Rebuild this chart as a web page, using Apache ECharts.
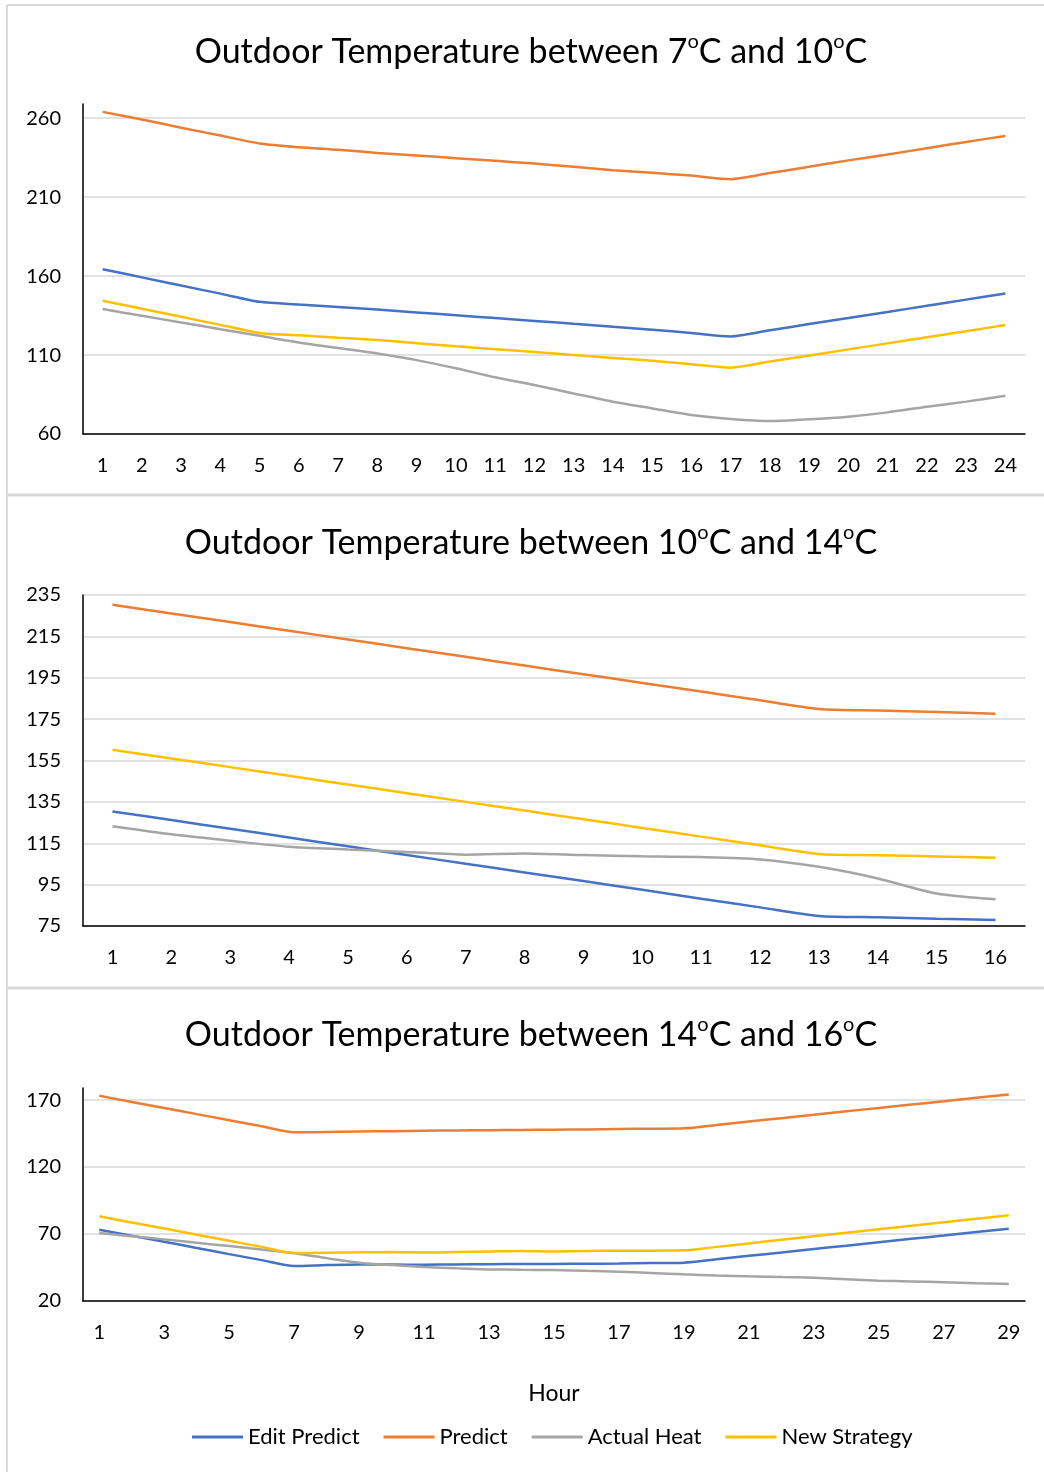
<!DOCTYPE html>
<html>
<head>
<meta charset="utf-8">
<script src="https://cdn.jsdelivr.net/npm/echarts@6/dist/echarts.min.js"></script>
<style>
html,body{margin:0;padding:0;background:#fff;}
#c{width:1044px;height:1472px;}
</style>
</head>
<body>
<div id="c"></div>
<script>
// ---------- data ----------
const seriesNames = ['Edit Predict', 'Predict', 'Actual Heat', 'New Strategy'];

const hours1 = ['1','2','3','4','5','6','7','8','9','10','11','12','13','14','15','16','17','18','19','20','21','22','23','24'];
const editPredict1 = [164.4,159.2,154,148.9,143.7,142,140.5,138.8,137,135.2,133.4,131.6,129.8,128,126,124,121.8,125.7,129.6,133.4,137.3,141.2,145.1,149];
const predict1 = [264,259.2,254,249,244,241.6,240,238,236.4,234.7,233,231.3,229.2,227,225.4,223.7,221.4,225.3,229.2,233.3,237,241,245,248.8];
const actual1 = [139.1,134.9,130.6,126.4,122.2,118,114.5,111,106.8,101.6,95.9,91,85.7,80.4,76.2,72,69.5,68.2,69.3,71,73.7,77.3,80.5,84.2];
const strategy1 = [144.4,139.3,134.2,129.1,124,122.5,121,119.5,117.5,115.5,113.7,112,110,108.2,106.4,104.2,102,105.9,109.7,113.6,117.4,121.3,125.1,129];

const hours2 = ['1','2','3','4','5','6','7','8','9','10','11','12','13','14','15','16'];
const editPredict2 = [130.4,126.2,122,117.8,113.5,109.3,105.1,100.9,96.7,92.5,88.2,84,79.8,79.2,78.5,77.9];
const predict2 = [230.3,226.1,221.9,217.7,213.5,209.3,205.1,200.9,196.7,192.5,188.3,184.1,179.9,179.2,178.5,177.6];
const actual2 = [123.2,119.3,116.2,113.3,112,110.8,109.5,110.1,109.3,108.7,108.3,107.2,103.6,98,90.7,87.9];
const strategy2 = [160.2,156,151.8,147.6,143.4,139.2,135,130.8,126.6,122.4,118.2,114,109.8,109.2,108.6,108];

const hours3 = ['1','2','3','4','5','6','7','8','9','10','11','12','13','14','15','16','17','18','19','20','21','22','23','24','25','26','27','28','29'];
const editPredict3 = [73.2,68.7,64.3,59.6,55,50.5,46.1,46.8,47.3,47.2,47.1,47.3,47.5,47.6,47.7,47.8,48,48.3,48.6,51.1,53.7,56.2,58.8,61.3,63.9,66.4,68.9,71.5,74];
const predict3 = [173.2,168.6,164.1,159.5,155,150.4,145.9,146.2,146.5,146.8,147.1,147.3,147.5,147.7,147.9,148.1,148.4,148.6,148.9,151.4,154,156.5,159,161.6,164.1,166.6,169.1,171.7,174.2];
const actual3 = [70.7,68.4,66,63.5,61,58.4,55.6,52,48.6,46.8,45.4,44.4,43.6,43.3,43.1,42.5,41.9,40.9,39.9,39.1,38.4,37.9,37.4,36.3,35.2,34.6,34,33.3,32.7];
const strategy3 = [83.2,78.6,74.1,69.5,64.9,60.4,55.8,56,56.3,56.6,56.2,56.6,57,57.4,57,57.3,57.6,57.6,57.8,60.4,63,65.7,68.3,70.9,73.5,76.1,78.8,81.4,84];

const titles = [
  ['Outdoor Temperature between 7', 'C and 10', 'C'],
  ['Outdoor Temperature between 10', 'C and 14', 'C'],
  ['Outdoor Temperature between 14', 'C and 16', 'C']
];
const yTicks1 = [60, 110, 160, 210, 260];
const yTicks2 = [75, 95, 115, 135, 155, 175, 195, 215, 235];
const yTicks3 = [20, 70, 120, 170];
const xAxisTitle = 'Hour';

// ---------- styles ----------
const colors = ['#4472C4', '#ED7D31', '#A5A5A5', '#FFC000'];
const FONT = 'Lato';
const TXT = '#000000';
const GRID = '#D9D9D9';

const grids = [
  {left: 83, right: 19, top: 104, height: 330},
  {left: 83, right: 19, top: 595, height: 331},
  {left: 83, right: 19, top: 1088, height: 213}
];

function xAxisFor(idx, data, labelInterval) {
  const ax = {
    type: 'category', gridIndex: idx, data: data, boundaryGap: true,
    axisLine: {lineStyle: {color: '#000', width: 1.5}},
    axisTick: {show: false},
    axisLabel: {interval: labelInterval, margin: 22, fontFamily: FONT, fontSize: 20, color: TXT},
    splitLine: {show: false}
  };
  if (idx === 2) {
    ax.name = xAxisTitle;
    ax.nameLocation = 'middle';
    ax.nameGap = 81;
    ax.nameTextStyle = {fontFamily: FONT, fontSize: 23, color: TXT};
  }
  return ax;
}
function yAxisFor(idx, ticks, max) {
  return {
    type: 'value', gridIndex: idx, min: ticks[0], max: max,
    interval: ticks[1] - ticks[0],
    axisLine: {show: true, lineStyle: {color: '#000', width: 1.5}},
    axisTick: {show: false, customValues: ticks},
    axisLabel: {margin: 22, fontFamily: FONT, fontSize: 20, color: TXT, customValues: ticks, showMaxLabel: true},
    splitLine: {show: true, lineStyle: {color: GRID, width: 1.5}}
  };
}

const panelData = [
  [editPredict1, predict1, actual1, strategy1],
  [editPredict2, predict2, actual2, strategy2],
  [editPredict3, predict3, actual3, strategy3]
];
const series = [];
panelData.forEach(function (arrs, p) {
  arrs.forEach(function (arr, i) {
    series.push({
      name: seriesNames[i], type: 'line', xAxisIndex: p, yAxisIndex: p,
      data: arr, showSymbol: false, symbol: 'none', smooth: 0.25,
      lineStyle: {color: colors[i], width: 2.5}, itemStyle: {color: colors[i]},
      z: 3
    });
  });
});

const titleY = [49, 540, 1032];
const graphics = [];
// frame
graphics.push({type: 'line', shape: {x1: 7, y1: 5, x2: 1044, y2: 5}, style: {stroke: GRID, lineWidth: 2}});
graphics.push({type: 'line', shape: {x1: 7, y1: 5, x2: 7, y2: 1472}, style: {stroke: GRID, lineWidth: 2}});
graphics.push({type: 'line', shape: {x1: 7, y1: 495, x2: 1044, y2: 495}, style: {stroke: GRID, lineWidth: 3}});
graphics.push({type: 'line', shape: {x1: 7, y1: 988, x2: 1044, y2: 988}, style: {stroke: GRID, lineWidth: 3}});
titles.forEach(function (t, i) {
  graphics.push({
    type: 'text', x: 531, y: titleY[i],
    style: {
      text: '{a|' + t[0] + '}{s|o}{a|' + t[1] + '}{s|o}{a|' + t[2] + '}',
      align: 'center', verticalAlign: 'middle',
      rich: {
        a: {fontFamily: FONT, fontSize: 34, color: TXT, lineHeight: 40, verticalAlign: 'bottom'},
        s: {fontFamily: FONT, fontSize: 20, color: TXT, lineHeight: 40, verticalAlign: 'top', padding: [3, 0, 0, 0]}
      }
    }
  });
});

const chart = echarts.init(document.getElementById('c'), null, {renderer: 'canvas'});
chart.setOption({
  animation: false,
  backgroundColor: '#ffffff',
  color: colors,
  grid: grids,
  xAxis: [xAxisFor(0, hours1, 0), xAxisFor(1, hours2, 0), xAxisFor(2, hours3, 1)],
  yAxis: [yAxisFor(0, yTicks1, 269), yAxisFor(1, yTicks2, 235), yAxisFor(2, yTicks3, 179)],
  legend: {
    data: seriesNames, left: 187, top: 1421, itemWidth: 51, itemHeight: 3, itemGap: 24,
    icon: 'rect', textStyle: {fontFamily: FONT, fontSize: 22, color: TXT}
  },
  graphic: graphics,
  series: series
});
</script>
</body>
</html>
